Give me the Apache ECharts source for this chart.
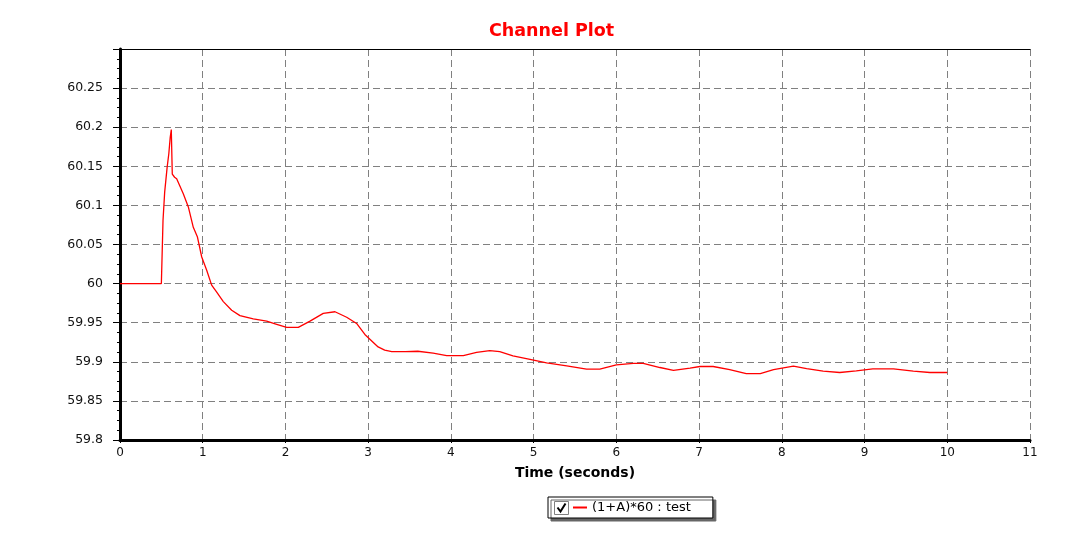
<!DOCTYPE html>
<html>
<head>
<meta charset="utf-8">
<script src="https://cdn.jsdelivr.net/npm/echarts@6/dist/echarts.min.js"></script>
<style>html,body{margin:0;padding:0;background:#fff;}#c{width:1068px;height:536px;}</style>
</head>
<body>
<div id="c"></div>
<script>
// ---- data ----
const times = [0, 0.50, 0.52, 0.54, 0.57, 0.59, 0.607, 0.62, 0.632, 0.66, 0.685, 0.765, 0.826, 0.886, 0.935, 0.988,
  1.048, 1.108, 1.169, 1.249, 1.35, 1.45, 1.611, 1.773, 1.894, 2.015, 2.155, 2.297, 2.457, 2.599, 2.74, 2.86, 2.96,
  3.03, 3.12, 3.2, 3.285, 3.45, 3.6, 3.785, 3.949, 4.15, 4.31, 4.47, 4.59, 4.75, 4.956, 5.157, 5.4, 5.64, 5.80,
  6.0, 6.205, 6.325, 6.527, 6.69, 6.89, 7.01, 7.17, 7.37, 7.57, 7.74, 7.9, 8.14, 8.3, 8.5, 8.7, 8.9, 9.1, 9.35,
  9.59, 9.79, 10.0];
const values = [60.000, 60.000, 60.081, 60.117, 60.149, 60.166, 60.187, 60.197, 60.140, 60.136, 60.134, 60.115, 60.098, 60.072, 60.060, 60.034,
  60.017, 59.998, 59.989, 59.977, 59.966, 59.959, 59.955, 59.952, 59.948, 59.944, 59.944, 59.952, 59.962, 59.964, 59.957, 59.949, 59.935,
  59.928, 59.919, 59.915, 59.913, 59.913, 59.9135, 59.911, 59.908, 59.908, 59.912, 59.9144, 59.913, 59.9075, 59.903, 59.8986, 59.8948, 59.8906, 59.8906,
  59.896, 59.898, 59.898, 59.8927, 59.889, 59.892, 59.894, 59.894, 59.890, 59.885, 59.885, 59.890, 59.8944, 59.8914, 59.888, 59.8863, 59.8884, 59.891, 59.891,
  59.888, 59.8863, 59.8863];
const seriesName = '(1+A)*60 : test';
const titleText = 'Channel Plot';
const xAxisName = 'Time (seconds)';
const xMin = 0, xMax = 11, xStep = 1;
const yMin = 59.8, yMax = 60.3, yStep = 0.05;

const chart = echarts.init(document.getElementById('c'));
const pairs = times.map((t, i) => [t, values[i]]);
const gridColor = '#808080';

chart.setOption({
  animation: false,
  backgroundColor: '#fff',
  title: {
    text: titleText, left: 489, top: 22, padding: 0,
    textStyle: { color: '#ff0000', fontFamily: 'DejaVu Sans', fontWeight: 'bold', fontSize: 17.5 }
  },
  grid: { left: 120, right: 38, top: 49, bottom: 96, containLabel: false },
  legend: {
    left: 548, top: 497,
    padding: [4, 22, 4, 25],
    backgroundColor: '#fff', borderColor: '#000', borderWidth: 1,
    shadowColor: '#666', shadowBlur: 0, shadowOffsetX: 3, shadowOffsetY: 3,
    itemWidth: 14, itemHeight: 2, icon: 'rect',
    itemStyle: { color: '#ff0000', borderWidth: 0 },
    textStyle: { color: '#000', fontFamily: 'DejaVu Sans', fontSize: 13 },
    data: [seriesName],
    selectedMode: false
  },
  xAxis: [{
    type: 'value', min: xMin, max: xMax, interval: xStep,
    name: xAxisName, nameLocation: 'middle', nameGap: 26,
    nameTextStyle: { color: '#000', fontFamily: 'DejaVu Sans', fontWeight: 'bold', fontSize: 14 },
    axisLine: { show: true, onZero: false, lineStyle: { color: '#000', width: 3 } },
    axisTick: { show: true, length: 3, lineStyle: { color: '#000' } },
    minorTick: { show: true, splitNumber: 4, length: 2, lineStyle: { color: '#000' } },
    axisLabel: { color: '#111', fontFamily: 'DejaVu Sans', fontSize: 12, margin: 7 },
    splitLine: { show: true, lineStyle: { color: gridColor, type: [7, 4], width: 1 } }
  }, {
    type: 'value', position: 'top', min: xMin, max: xMax,
    axisLine: { show: true, lineStyle: { color: '#000', width: 1 } },
    axisTick: { show: false }, axisLabel: { show: false }, splitLine: { show: false }
  }],
  yAxis: [{
    type: 'value', min: yMin, max: yMax, interval: yStep,
    axisLine: { show: true, onZero: false, lineStyle: { color: '#000', width: 3 } },
    axisTick: { show: true, length: 7, lineStyle: { color: '#000' } },
    minorTick: { show: true, splitNumber: 4, length: 3, lineStyle: { color: '#000' } },
    axisLabel: {
      color: '#111', fontFamily: 'DejaVu Sans', fontSize: 12.5, margin: 17,
      showMaxLabel: false,
      formatter: v => String(parseFloat(v.toFixed(2)))
    },
    splitLine: { show: true, lineStyle: { color: gridColor, type: [7, 4], width: 1 } }
  }, {
    type: 'value', position: 'right', min: yMin, max: yMax,
    axisLine: { show: true, lineStyle: { color: '#000', width: 1 } },
    axisTick: { show: false }, axisLabel: { show: false }, splitLine: { show: false }
  }],
  series: [{
    name: seriesName, type: 'line', data: pairs,
    showSymbol: false, symbol: 'none', smooth: false,
    lineStyle: { color: '#ff0000', width: 1.3 }, itemStyle: { color: '#ff0000' },
    z: 5
  }],
  graphic: {
    elements: [
      { type: 'rect', z: 200, zlevel: 1, shape: { x: 554.5, y: 501.5, width: 14, height: 13 },
        style: { fill: '#fff', stroke: '#808080', lineWidth: 1 } },
      { type: 'polyline', z: 201, zlevel: 1, shape: { points: [[557.5, 507.5], [560.5, 511.5], [565.5, 503.5]] },
        style: { stroke: '#000', lineWidth: 2, fill: null } }
    ]
  }
});
</script>
</body>
</html>
